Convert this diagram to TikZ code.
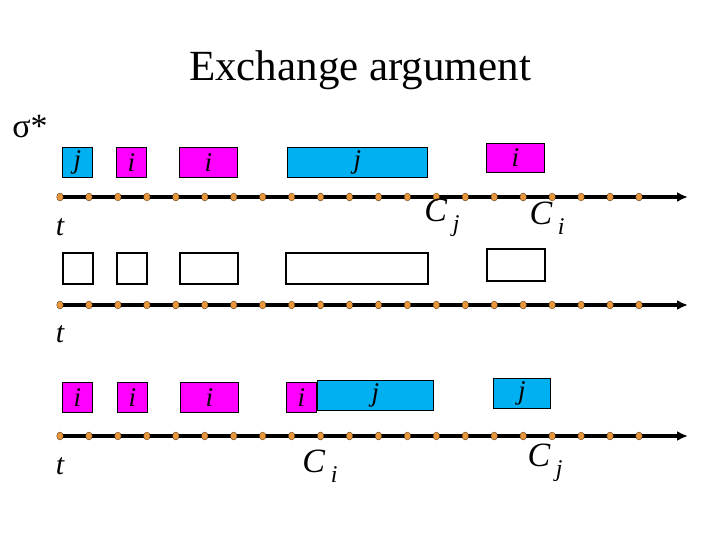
\documentclass[tikz,border=0pt]{standalone}
\usepackage{fontspec}
\setmainfont{Liberation Serif}
\usetikzlibrary{arrows.meta}
\definecolor{cy}{RGB}{0,176,240}
\definecolor{mg}{RGB}{255,0,255}
\definecolor{dot}{RGB}{232,150,60}
\tikzset{x=1pt,y=-1pt,
 job/.style={draw=black,line width=0.8pt,inner sep=0pt,font=\fontsize{27}{27}\selectfont\itshape},
 wbox/.style={draw=black,line width=2.2pt,fill=white},
 axis/.style={line width=3.5pt,-{Latex[length=11pt,width=10pt]}},
 lab/.style={font=\fontsize{34}{34}\selectfont\itshape},
 tl/.style={font=\fontsize{30}{30}\selectfont\itshape}}
\begin{document}
\begin{tikzpicture}
\useasboundingbox (0,0) rectangle (720,540);
\node[font=\fontsize{43}{43}\selectfont] (title) at (360,70) {Exchange argument};
\node[font=\fontsize{34}{34}\selectfont] (sig) at (30,127) {σ*};
% row 1
\foreach \a/\b/\c/\d/\col/\t/\n in {62/147/92/177/cy/j/a1,116/147/146/177/mg/i/a2,179/147/237/177/mg/i/a3,287/147/427/177/cy/j/a4,486/143/544/172/mg/i/a5}{
 \node[job,fill=\col,minimum width=\c-\a,minimum height=\d-\b,anchor=north west] (\n) at (\a,\b) {\t};}
% row 2
\foreach \a/\b/\c/\d/\n in {62/252/92/283/b1,116/252/146/283/b2,179/252/237/283/b3,285/252/427/283/b4,486/248/544/280/b5}{
 \node[wbox,minimum width=\c-\a,minimum height=\d-\b,anchor=north west] (\n) at (\a,\b) {};}
% row 3
\foreach \a/\b/\c/\d/\col/\t/\n in {62/382/92/412/mg/i/c1,117/382/147/412/mg/i/c2,180/382/238/412/mg/i/c3,286/382/316/412/mg/i/c4,317/380/433/410/cy/j/c5,493/378/550/408/cy/j/c6}{
 \node[job,fill=\col,minimum width=\c-\a,minimum height=\d-\b,anchor=north west] (\n) at (\a,\b) {\t};}
% axes
\foreach \y/\n in {197/ax1,305/ax2,436/ax3}{
 \coordinate (\n s) at (60,\y); \coordinate (\n e) at (688,\y);
 \draw[axis] (\n s) -- (\n e);
 \foreach \k in {0,...,20}{\fill[dot,draw=black!70!dot,line width=0.3pt] (60+\k*28.95,\y) ellipse (3.3pt and 4pt);}}
\node[tl] (t1) at (60,227) {t};
\node[tl] (t2) at (60,334) {t};
\node[tl] (t3) at (60,466) {t};
\node[lab] (cj1) at (442,218) {C\,\raisebox{-10pt}{\fontsize{24}{24}\selectfont j}};
\node[lab] (ci1) at (547,218) {C\,\raisebox{-10pt}{\fontsize{24}{24}\selectfont i}};
\node[lab] (ci3) at (320,466) {C\,\raisebox{-10pt}{\fontsize{24}{24}\selectfont i}};
\node[lab] (cj3) at (545,463) {C\,\raisebox{-10pt}{\fontsize{24}{24}\selectfont j}};
\end{tikzpicture}
\end{document}
